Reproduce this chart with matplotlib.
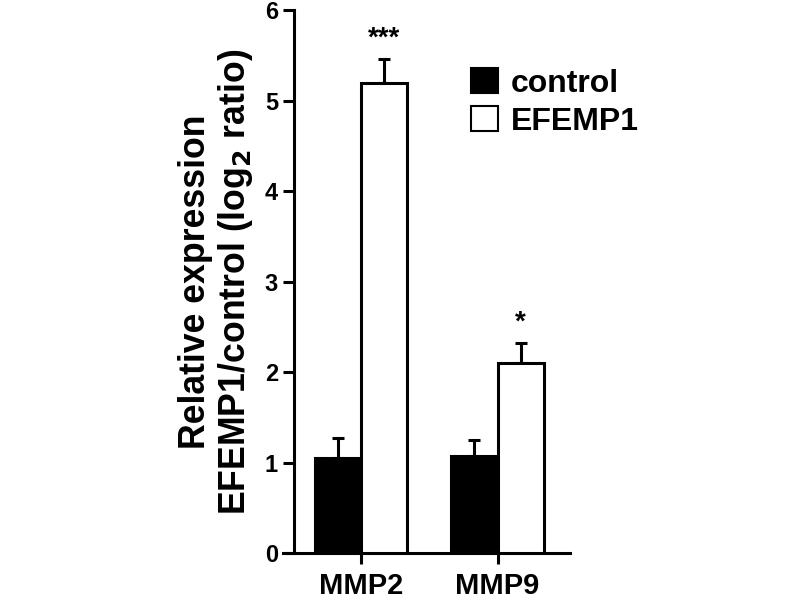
import numpy as np
import matplotlib.pyplot as plt

plt.rcParams['font.family'] = ['Liberation Sans', 'DejaVu Sans']
plt.rcParams['font.weight'] = 'bold'

genes = ["MMP2", "MMP9"]
control_vals = [1.05, 1.07]
control_err = [0.22, 0.18]
efemp1_vals = [5.19, 2.10]
efemp1_err = [0.27, 0.22]
signif = ["***", "*"]

lw = 2.2
width = 0.34
x = np.arange(len(genes))

fig = plt.figure(figsize=(8, 6), dpi=100)
ax = fig.add_axes([0.3675, 0.0783, 0.345, 0.905])

ax.bar(x - width / 2, control_vals, width, color="black", edgecolor="black",
       linewidth=lw, label="control", zorder=3)
ax.bar(x + width / 2, efemp1_vals, width, color="white", edgecolor="black",
       linewidth=lw, label="EFEMP1", zorder=3)
ax.errorbar(x - width / 2, control_vals, yerr=[np.zeros(2), control_err],
            fmt="none", ecolor="black", elinewidth=lw, capsize=4.5, capthick=lw, zorder=2)
ax.errorbar(x + width / 2, efemp1_vals, yerr=[np.zeros(2), efemp1_err],
            fmt="none", ecolor="black", elinewidth=lw, capsize=4.5, capthick=lw, zorder=2)

for xi, v, e, s in zip(x, efemp1_vals, efemp1_err, signif):
    ax.text(xi + width / 2, v + e + 0.08, s, ha="center", va="bottom",
            fontsize=20, fontweight="bold")

ax.set_xlim(-0.491, 1.531)
ax.set_ylim(0, 6)
ax.set_yticks(range(0, 7))
ax.set_xticks(x)
ax.set_xticklabels(genes)
ax.tick_params(axis="both", width=lw, length=8, labelsize=17)
ax.tick_params(axis="x", labelsize=21, pad=6)
for sp in ["top", "right"]:
    ax.spines[sp].set_visible(False)
for sp in ["left", "bottom"]:
    ax.spines[sp].set_linewidth(lw)
ax.spines["bottom"].set_bounds(-0.491 - 11 / 136.5, 1.531)

ax.set_ylabel("Relative expression\nEFEMP1/control (log$_\\mathbf{2}$ ratio)",
              fontsize=25.7, fontweight="bold", labelpad=7, linespacing=1.12)

leg = fig.legend(loc="upper left", bbox_to_anchor=(455 / 800, 1 - 52 / 600),
                 frameon=False, fontsize=23, handlelength=0.85, handleheight=0.85,
                 handletextpad=0.4, labelspacing=0.22, borderpad=0)
for h in leg.legend_handles:
    h.set_linewidth(1.5)

fig.savefig("out.png", dpi=100)
